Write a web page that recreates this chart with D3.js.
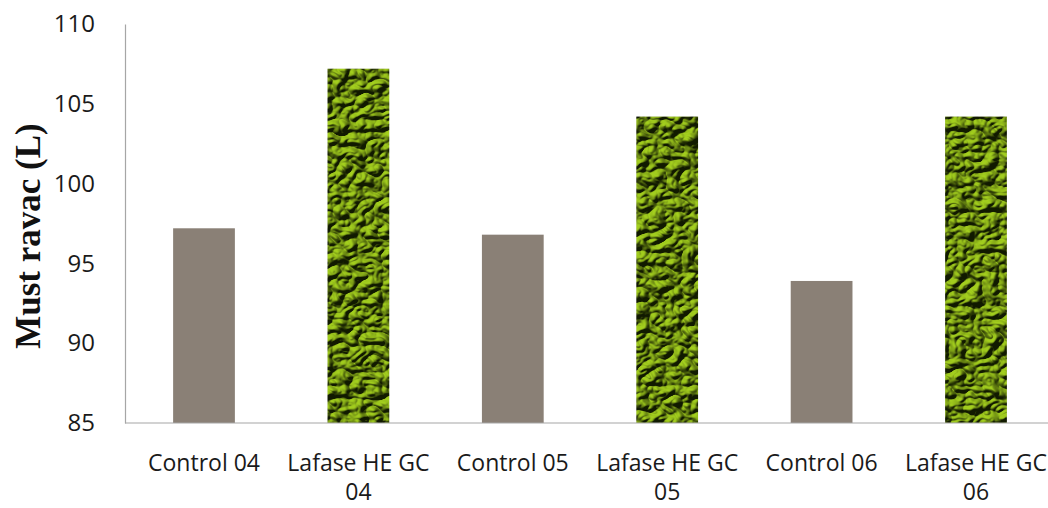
<!DOCTYPE html>
<html>
<head>
<meta charset="utf-8">
<script src="https://cdn.jsdelivr.net/npm/d3@7"></script>
<style>
  html, body { margin: 0; padding: 0; background: #fff; }
  svg { display: block; }
</style>
</head>
<body>
<svg id="chart" width="1048" height="508"></svg>
<script>
// Must yield per treatment
const categories = ["Control 04", "Lafase HE GC 04", "Control 05", "Lafase HE GC 05", "Control 06", "Lafase HE GC 06"];
const labelLines = [["Control 04"], ["Lafase HE GC", "04"], ["Control 05"], ["Lafase HE GC", "05"], ["Control 06"], ["Lafase HE GC", "06"]];
const values = [97.2, 107.2, 96.8, 104.2, 93.9, 104.2];
const kinds = ["control", "enzyme", "control", "enzyme", "control", "enzyme"];
const yTicks = [85, 90, 95, 100, 105, 110];

const svg = d3.select("#chart");
const W = 1048;
const axisX = 125, baseY = 423, topY = 24;

const x = d3.scaleBand().domain(categories).range([126.8, 1053.2]).paddingInner(0.6).paddingOuter(0.3);
const y = d3.scaleLinear().domain([85, 110]).range([baseY, topY]);

// Embossed, crumpled green texture for enzyme-treated bars
const defs = svg.append("defs");
const f = defs.append("filter").attr("id", "crumple").attr("x", 0).attr("y", 0).attr("width", 1).attr("height", 1)
  .attr("color-interpolation-filters", "sRGB");
f.append("feTurbulence").attr("type", "turbulence").attr("baseFrequency", "0.06 0.075").attr("numOctaves", 2).attr("seed", 11).attr("result", "noise");
f.append("feDiffuseLighting").attr("in", "noise").attr("surfaceScale", 7).attr("diffuseConstant", 1.1).attr("lighting-color", "#9cc220").attr("result", "lit")
  .append("feDistantLight").attr("azimuth", 235).attr("elevation", 38);
f.append("feComposite").attr("in", "lit").attr("in2", "SourceGraphic").attr("operator", "arithmetic")
  .attr("k1", 0).attr("k2", 0.85).attr("k3", 0.3).attr("k4", 0).attr("result", "mix");
f.append("feComposite").attr("in", "mix").attr("in2", "SourceAlpha").attr("operator", "in");

// Bars
svg.append("g").selectAll("rect").data(values).join("rect")
  .attr("x", (d, i) => x(categories[i]))
  .attr("width", x.bandwidth())
  .attr("y", d => y(d))
  .attr("height", d => y(85) - y(d))
  .attr("fill", (d, i) => kinds[i] === "control" ? "#8a8076" : "#3a5500")
  .attr("filter", (d, i) => kinds[i] === "control" ? null : "url(#crumple)");

// Y axis
const yAxis = d3.axisLeft(y).tickValues(yTicks).tickSize(0).tickPadding(30);
const gy = svg.append("g").attr("transform", `translate(${axisX},0)`).call(yAxis);
gy.select(".domain").attr("stroke", "#a6a6a6").attr("stroke-width", 1.2);
gy.selectAll("text").attr("font-family", "'Open Sans', sans-serif").attr("font-size", 24).attr("fill", "#1a1a1a");

// X axis baseline
svg.append("line").attr("x1", axisX).attr("x2", W).attr("y1", y(85)).attr("y2", y(85))
  .attr("stroke", "#a6a6a6").attr("stroke-width", 1.2);

// Category labels
const lab = svg.append("g").selectAll("text").data(categories).join("text")
  .attr("x", d => x(d) + x.bandwidth() / 2)
  .attr("y", 471)
  .attr("text-anchor", "middle")
  .attr("font-family", "'Open Sans', sans-serif")
  .attr("font-size", 23)
  .attr("fill", "#1a1a1a");
lab.each(function(d, i) {
  const t = d3.select(this);
  labelLines[i].forEach((line, j) => {
    t.append("tspan").attr("x", x(d) + x.bandwidth() / 2).attr("dy", j === 0 ? 0 : 29).text(line);
  });
});

// Y axis title
svg.append("text")
  .attr("transform", `translate(40,236) rotate(-90)`)
  .attr("text-anchor", "middle")
  .attr("font-family", "'Liberation Serif', 'Times New Roman', serif")
  .attr("font-weight", "bold")
  .attr("font-size", 35)
  .attr("fill", "#111")
  .text("Must ravac (L)");
</script>
</body>
</html>
